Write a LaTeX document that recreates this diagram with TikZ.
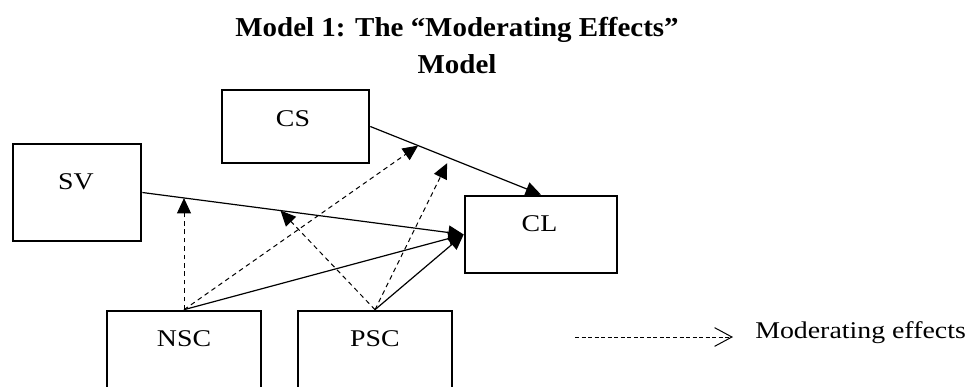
\documentclass[tikz,border=0pt]{standalone}
\usepackage{fontspec}
\setmainfont{Liberation Serif}
\newfontfamily\boxfont[FakeStretch=1.16]{Liberation Serif}
\newfontfamily\headfont[FakeStretch=1.06]{Liberation Serif}
\usepackage{tikz}
\usetikzlibrary{arrows.meta,calc}
\tikzset{
    var box/.style={rectangle, draw, line width=2pt, inner sep=0pt},
    var name/.style={font=\boxfont\fontsize{18}{20}\selectfont, inner sep=0pt},
    direct/.style={line width=0.9pt, -{Triangle[length=11.5pt,width=10.5pt]}},
    moderating/.style={direct, line width=0.75pt, dash pattern=on 3.5pt off 2.8pt},
    key line/.style={line width=0.75pt, dash pattern=on 3pt off 1.9pt, -{Straight Barb[length=13pt,width=14pt]}}
}

\begin{document}
\begin{tikzpicture}[x=0.75pt,y=-0.75pt]
    \useasboundingbox (0,0) rectangle (970,386);
    \clip (0,0) rectangle (970,386);
    \node[font=\headfont\bfseries\fontsize{20.5}{27.5}\selectfont, align=center, anchor=north, inner sep=0pt] (title) at (457,17) {Model 1: The “Moderating Effects”\\Model};
    % boxes
    \node[var box, minimum width=110.25pt, minimum height=54.75pt] (cs) at (295.5,126.5) {};
    \node[var box, minimum width=96pt, minimum height=72.75pt] (sv) at (77,192.5) {};
    \node[var box, minimum width=114pt, minimum height=57.75pt] (cl) at (541,234.5) {};
    \node[var box, minimum width=115.5pt, minimum height=81.75pt] (nsc) at (184,365.5) {};
    \node[var box, minimum width=115.5pt, minimum height=81.75pt] (psc) at (375,365.5) {};
    % names
    \node[var name] (cs-name) at (293,118.5) {CS};
    \node[var name] (sv-name) at (76,181.5) {SV};
    \node[var name] (cl-name) at (539.5,224) {CL};
    \node[var name] (nsc-name) at (184,339) {NSC};
    \node[var name] (psc-name) at (375,339) {PSC};
    % direct effects
    \draw[direct] (cs.east) -- (cl.north);
    \draw[direct] (sv.east) -- (cl.west);
    \draw[direct] (nsc.north) -- (cl.west);
    \draw[direct] (psc.north) -- (cl.west);
    % moderating effects
    \coordinate (sv-cl-a) at ($(sv.east)!0.133!(cl.west)$);
    \coordinate (sv-cl-b) at ($(sv.east)!0.43!(cl.west)$);
    \coordinate (cs-cl-a) at ($(cs.east)!0.28!(cl.north)$);
    \coordinate (cs-cl-b) at ($(cs.east)!0.45!(cl.north)+(0,6)$);
    \draw[moderating] (nsc.north) -- (nsc.north |- sv-cl-a);
    \draw[moderating] (nsc.north) -- (cs-cl-a);
    \draw[moderating] (psc.north) -- (sv-cl-b);
    \draw[moderating] (psc.north) -- (cs-cl-b);
    % key
    \node[var name, anchor=base west] (key) at (755,338.7) {Moderating effects};
    \coordinate (key-from) at (575,337);
    \coordinate (key-to) at (733,337);
    \draw[key line] (key-from) -- (key-to);
\end{tikzpicture}
\end{document}
